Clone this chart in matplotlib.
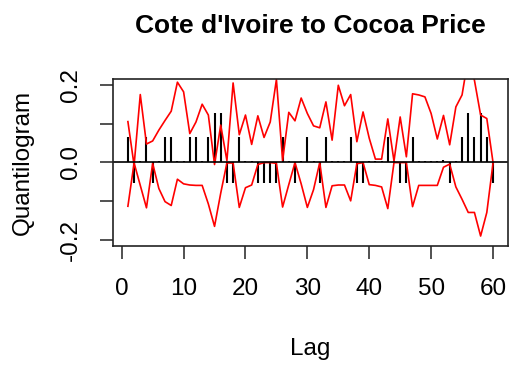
import matplotlib
matplotlib.use("Agg")
import matplotlib.pyplot as plt
import numpy as np

plt.rcParams['font.family'] = ['Liberation Sans', 'DejaVu Sans']
plt.rcParams['axes.unicode_minus'] = False

lags = list(range(1, 61))
quantilogram = [
    0.066, -0.055, 0.004, 0.066, -0.055, 0.004, 0.066, 0.066, 0.004, 0.004,
    0.066, 0.066, 0.004, 0.066, 0.128, 0.128, -0.055, -0.055, 0.066, 0.004,
    0.004, -0.055, -0.055, -0.055, -0.055, 0.066, 0.004, -0.055, 0.004, 0.066,
    0.004, -0.055, 0.066, 0.004, 0.004, 0.004, 0.066, -0.055, -0.055, 0.004,
    0.004, 0.004, 0.066, 0.004, -0.055, -0.055, 0.066, 0.004, 0.004, 0.004,
    0.004, 0.006, -0.055, 0.004, 0.066, 0.128, 0.066, 0.128, 0.066, -0.055,
]
upper_band = [
    0.105, -0.008, 0.175, 0.047, 0.055, 0.083, 0.108, 0.132, 0.207, 0.182,
    0.074, 0.104, 0.150, 0.122, -0.006, 0.096, 0.004, 0.205, 0.071, 0.122,
    0.046, 0.120, 0.064, 0.104, 0.214, 0.004, 0.129, 0.107, 0.166, 0.126,
    0.094, 0.089, 0.156, 0.057, 0.199, 0.146, 0.175, 0.053, 0.130, 0.062,
    0.008, 0.008, 0.112, 0.003, 0.117, 0.014, 0.177, 0.174, 0.169, 0.126,
    0.060, 0.121, 0.045, 0.143, 0.174, 0.270, 0.212, 0.122, 0.113, 0.000,
]
lower_band = [
    -0.114, -0.002, -0.060, -0.118, -0.003, -0.068, -0.102, -0.112, -0.044, -0.056,
    -0.059, -0.060, -0.060, -0.108, -0.166, -0.080, -0.002, -0.002, -0.117, -0.066,
    -0.059, -0.006, -0.001, -0.001, -0.003, -0.116, -0.058, -0.001, -0.056, -0.117,
    -0.071, -0.001, -0.117, -0.061, -0.059, -0.059, -0.100, -0.004, -0.001, -0.058,
    -0.060, -0.064, -0.120, -0.001, -0.001, -0.001, -0.115, -0.060, -0.060, -0.060,
    -0.060, -0.013, -0.005, -0.064, -0.096, -0.130, -0.130, -0.191, -0.130, -0.003,
]
x_ticks = [0, 10, 20, 30, 40, 50, 60]
y_ticks = [-0.2, -0.1, 0.0, 0.1, 0.2]
y_tick_labels = ['-0.2', '', '0.0', '', '0.2']

W, H = 509, 365
fig = plt.figure(figsize=(W / 100, H / 100), dpi=100)
L, R, T, B = 113.3, 507.6, 78.7, 245.7
ax = fig.add_axes([L / W, 1 - B / H, (R - L) / W, (B - T) / H])

ax.vlines(lags, 0, quantilogram, colors='black', linewidth=1.5)
ax.plot(lags, upper_band, color='red', linewidth=1.2)
ax.plot(lags, lower_band, color='red', linewidth=1.2)
ax.axhline(0, color='black', linewidth=1.2)

pad_x = 0.04 * (60 - 1)
ax.set_xlim(1 - pad_x, 60 + pad_x)
ax.set_ylim(-0.216, 0.216)

ax.set_xticks(x_ticks)
ax.set_xticklabels([str(v) for v in x_ticks])
ax.set_yticks(y_ticks)
ax.set_yticklabels(y_tick_labels, rotation=90, va='center')

for s in ax.spines.values():
    s.set_linewidth(1.2)
    s.set_color('#222222')
ax.tick_params(axis='both', direction='out', length=9.5, width=1.1,
               colors='#222222', labelsize=17.5, labelcolor='black')
ax.tick_params(axis='x', pad=14)
ax.tick_params(axis='y', pad=13)

fig.text((L + R) / 2 / W, 1 - 33 / H, "Cote d'Ivoire to Cocoa Price",
         ha='center', va='baseline', fontsize=19, fontweight='bold')
fig.text((L + R) / 2 / W, 1 - 355 / H, 'Lag', ha='center', va='baseline',
         fontsize=17.5)
fig.text(23 / W, 1 - 162 / H, 'Quantilogram', ha='center', va='center',
         rotation=90, fontsize=17.5)

fig.savefig('out.png', dpi=100)
